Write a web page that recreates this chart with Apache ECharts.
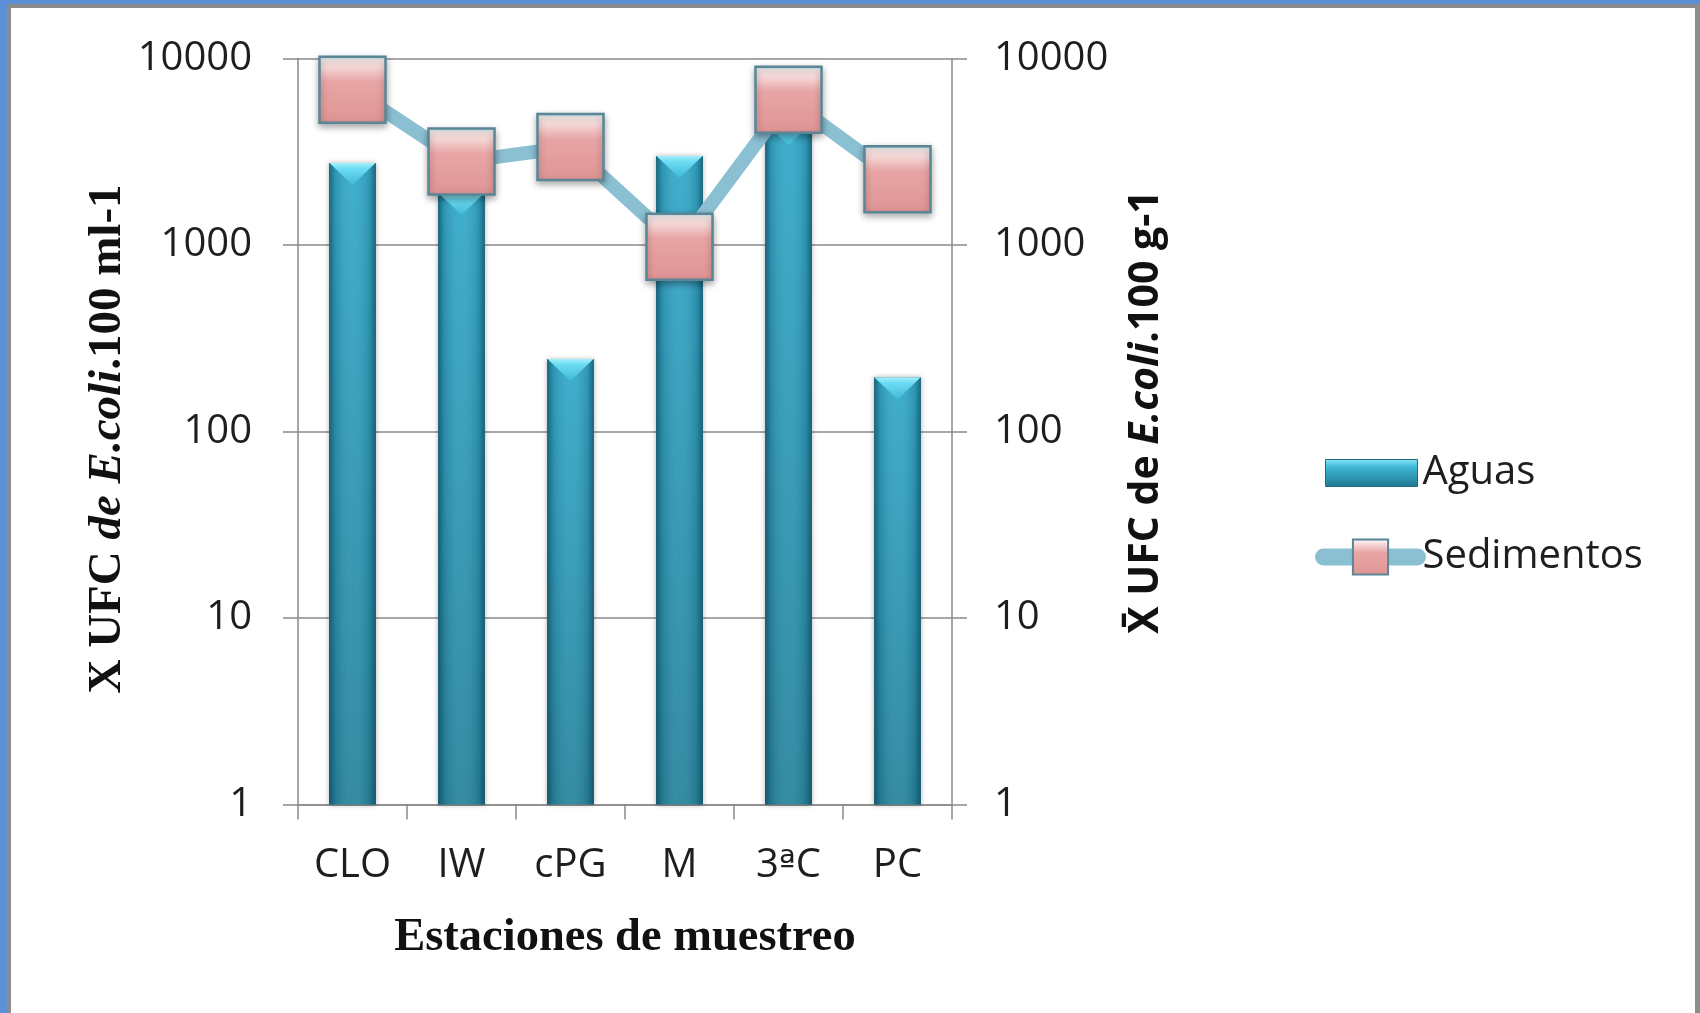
<!DOCTYPE html>
<html>
<head>
<meta charset="utf-8">
<script src="https://cdn.jsdelivr.net/npm/echarts@6/dist/echarts.min.js"></script>
<style>
  html, body { margin: 0; padding: 0; background: #ffffff; }
  #chart { width: 1700px; height: 1013px; }
</style>
</head>
<body>
<div id="chart"></div>
<script>
// Sampling stations and E. coli counts (CFU)
const categories = ['CLO', 'IW', 'cPG', 'M', '3ªC', 'PC'];
const aguas = [2750, 1900, 245, 3000, 4500, 195];          // per 100 ml
const sedimentos = [6800, 2800, 3350, 980, 6000, 2250];   // per 100 g
const yTicks = [1, 10, 100, 1000, 10000];

const chart = echarts.init(document.getElementById('chart'));

const sans = '"Open Sans", "Noto Sans", sans-serif';
const serif = '"Liberation Serif", "DejaVu Serif", serif';

const barBody = new echarts.graphic.LinearGradient(0, 0, 0, 1, [
  { offset: 0, color: '#35aacb' },
  { offset: 1, color: '#28859e' }
]);
const barEdges = new echarts.graphic.LinearGradient(0, 0, 1, 0, [
  { offset: 0, color: 'rgba(8,55,72,0.6)' },
  { offset: 0.13, color: 'rgba(8,55,72,0.18)' },
  { offset: 0.5, color: 'rgba(255,255,255,0.05)' },
  { offset: 0.87, color: 'rgba(8,55,72,0.18)' },
  { offset: 1, color: 'rgba(8,55,72,0.6)' }
]);
const capFill = new echarts.graphic.LinearGradient(0, 0, 0, 1, [
  { offset: 0, color: '#a2f0fb' },
  { offset: 0.25, color: '#6ddcf2' },
  { offset: 1, color: '#3fb9d8' }
]);
const markerFill = new echarts.graphic.LinearGradient(0, 0, 0, 1, [
  { offset: 0, color: '#a9e3ee' },
  { offset: 0.07, color: '#fdeeee' },
  { offset: 0.38, color: '#e8a5a5' },
  { offset: 1, color: '#df9494' }
]);
const legendBarFill = new echarts.graphic.LinearGradient(0, 0, 0, 1, [
  { offset: 0, color: '#8ae9f8' },
  { offset: 0.3, color: '#3fb6d6' },
  { offset: 1, color: '#1f7890' }
]);

function logAxis(position, margin) {
  return {
    type: 'log',
    logBase: 10,
    min: yTicks[0],
    max: yTicks[yTicks.length - 1],
    position: position,
    axisLine: { show: true, lineStyle: { color: '#8a8a8a', width: 1.5 } },
    axisTick: { show: true, inside: false, length: 15, lineStyle: { color: '#8a8a8a', width: 1.5 } },
    axisLabel: {
      margin: margin,
      fontFamily: sans,
      fontSize: 40,
      color: '#1e1e1e',
      formatter: v => String(Math.round(v))
    },
    splitLine: { show: position === 'left', lineStyle: { color: '#8a8a8a', width: 1.5 } },
    minorTick: { show: false }
  };
}

const option = {
  backgroundColor: '#ffffff',
  animation: false,
  grid: { left: 298, right: 748, top: 58.5, bottom: 208.5, containLabel: false },
  xAxis: {
    type: 'category',
    data: categories,
    boundaryGap: true,
    axisLine: { show: true, lineStyle: { color: '#8a8a8a', width: 1.5 } },
    axisTick: { show: true, interval: 0, inside: false, length: 15, alignWithLabel: false, lineStyle: { color: '#8a8a8a', width: 1.5 } },
    axisLabel: {
      interval: 0,
      margin: 41,
      fontFamily: sans,
      fontSize: 40,
      color: '#1e1e1e',
      // the ordinal indicator is taken from DejaVu Sans, whose glyph is underlined
      formatter: v => v.replace('ª', '{o|ª}'),
      rich: { o: { fontFamily: '"DejaVu Sans", sans-serif', fontSize: 36, color: '#1e1e1e' } }
    },
    name: 'Estaciones de muestreo',
    nameLocation: 'middle',
    nameGap: 110,
    nameTextStyle: { fontFamily: serif, fontWeight: 'bold', fontSize: 46.5, color: '#111111' }
  },
  yAxis: [logAxis('left', 46), logAxis('right', 42)],
  legend: [
    {
      left: 1320, top: 448,
      orient: 'vertical',
      itemWidth: 92, itemHeight: 27, itemGap: 10,
      data: [{ name: 'Aguas', icon: 'rect', itemStyle: { color: legendBarFill, borderColor: '#1c6c82', borderWidth: 1 } }],
      textStyle: { fontFamily: sans, fontSize: 40, color: '#1e1e1e' },
      selectedMode: false
    },
    {
      left: 1310, top: 532,
      orient: 'vertical',
      itemWidth: 94, itemHeight: 44,
      data: ['Sedimentos'],
      lineStyle: { width: 17, cap: 'round' },
      textStyle: { fontFamily: sans, fontSize: 40, color: '#1e1e1e' },
      selectedMode: false
    }
  ],
  series: [
    {
      name: 'Aguas',
      type: 'bar',
      yAxisIndex: 0,
      data: aguas,
      barWidth: '43%',
      barGap: '-100%',
      itemStyle: { color: barBody, shadowBlur: 5, shadowColor: 'rgba(0,0,0,0.3)' },
      z: 2
    },
    {
      name: 'Aguas bordes',
      type: 'bar',
      yAxisIndex: 0,
      data: aguas,
      barWidth: '43%',
      barGap: '-100%',
      itemStyle: { color: barEdges },
      silent: true,
      z: 3
    },
    {
      name: 'Aguas bisel',
      type: 'scatter',
      yAxisIndex: 0,
      data: aguas,
      symbol: 'path://M0,0 L47,0 L23.5,22 Z',
      symbolSize: [46, 22],
      symbolOffset: [0, 11],
      itemStyle: { color: capFill, opacity: 1 },
      silent: true,
      z: 4
    },
    {
      name: 'Sedimentos',
      type: 'line',
      yAxisIndex: 1,
      data: sedimentos,
      symbol: 'rect',
      symbolSize: [66, 66],
      showAllSymbol: true,
      lineStyle: { color: '#8bc0d3', width: 14 },
      itemStyle: {
        color: markerFill,
        borderColor: '#5a8696',
        borderWidth: 2.5,
        shadowBlur: 7,
        shadowOffsetY: 3,
        shadowColor: 'rgba(0,0,0,0.35)'
      },
      z: 5
    }
  ],
  graphic: [
    // outer frame
    { type: 'rect', shape: { x: 0, y: 0, width: 1700, height: 4 }, style: { fill: '#5b8fd6' }, silent: true },
    { type: 'rect', shape: { x: 0, y: 0, width: 7, height: 1013 }, style: { fill: '#5b8fd6' }, silent: true },
    { type: 'rect', shape: { x: 7, y: 4, width: 1693, height: 4 }, style: { fill: '#8c8c8c' }, silent: true },
    { type: 'rect', shape: { x: 7, y: 4, width: 4, height: 1009 }, style: { fill: '#8c8c8c' }, silent: true },
    { type: 'rect', shape: { x: 1695, y: 4, width: 5, height: 1009 }, style: { fill: '#8c8c8c' }, silent: true },
    // left axis title
    {
      type: 'text',
      x: 108, y: 439,
      rotation: Math.PI / 2,
      style: {
        text: '{b|X UFC }{i|de E.coli}{b|.100 ml-1}',
        align: 'center',
        verticalAlign: 'middle',
        rich: {
          b: { fontFamily: serif, fontWeight: 'bold', fontSize: 47, fill: '#111111' },
          i: { fontFamily: serif, fontWeight: 'bold', fontStyle: 'italic', fontSize: 47, fill: '#111111' }
        }
      },
      silent: true
    },
    // right axis title
    {
      type: 'text',
      x: 1146, y: 412,
      rotation: Math.PI / 2,
      style: {
        text: '{b|X\u0304 UFC de }{i|E.coli}{b|.100 g-1}',
        align: 'center',
        verticalAlign: 'middle',
        rich: {
          b: { fontFamily: sans, fontWeight: 'bold', fontSize: 41, fill: '#111111' },
          i: { fontFamily: sans, fontWeight: 'bold', fontStyle: 'italic', fontSize: 41, fill: '#111111' }
        }
      },
      silent: true
    }
  ]
};

chart.setOption(option);
</script>
</body>
</html>
